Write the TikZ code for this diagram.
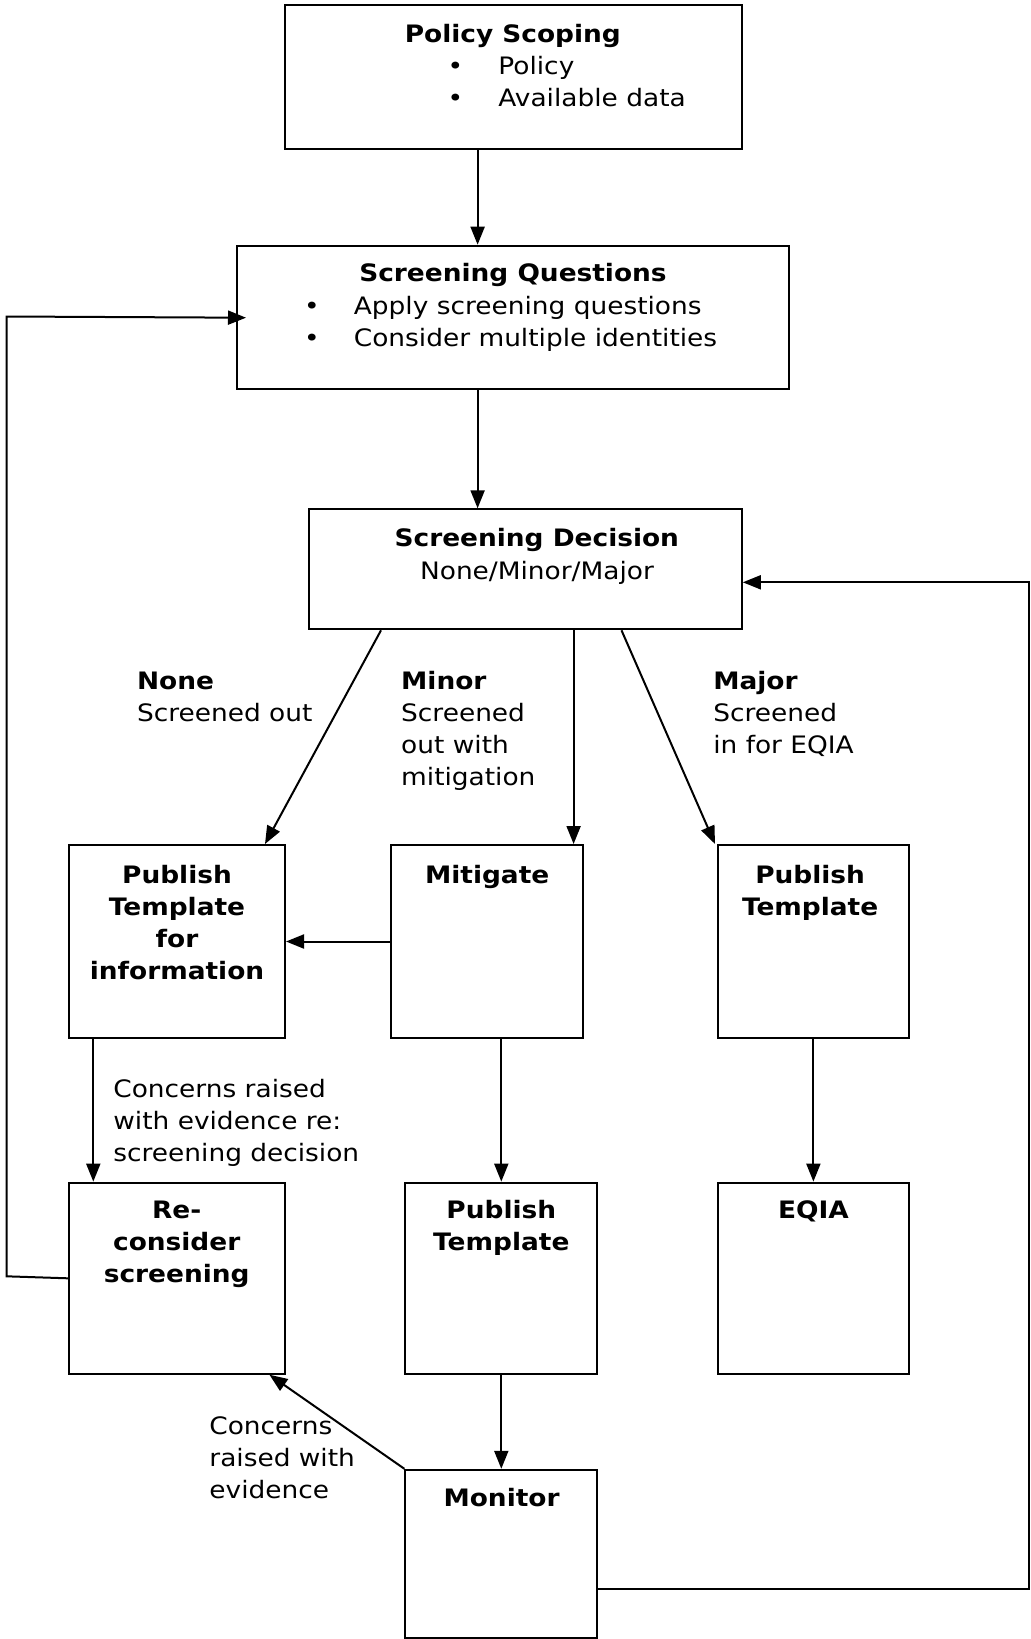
\documentclass[tikz,border=0pt]{standalone}
\usepackage{fontspec}
\setmainfont[FakeStretch=1.1]{DejaVu Sans}
\usetikzlibrary{arrows.meta,calc}
\begin{document}
\begin{tikzpicture}[x=0.5pt,y=-0.5pt,
  box/.style={draw,line width=1pt,inner sep=0pt},
  conn/.style={line width=1pt,-{Triangle[length=9pt,width=7pt]}},
  ttl/.style={font=\fontsize{12pt}{16pt}\selectfont\bfseries,anchor=base,inner sep=0pt},
  btl/.style={font=\fontsize{12pt}{16pt}\selectfont\bfseries,anchor=base west,inner sep=0pt},
  txt/.style={font=\fontsize{12pt}{16pt}\selectfont,anchor=base west,inner sep=0pt},
  ctr/.style={font=\fontsize{12pt}{16pt}\selectfont,anchor=base,inner sep=0pt}]
\useasboundingbox (0,0) rectangle (1030,1639);

% boxes
\node[box,minimum width=228.25pt,minimum height=71.75pt] (ps) at (513.25,76.75) {};
\node[box,minimum width=276.25pt,minimum height=71.65pt] (sq) at (512.75,317.35) {};
\node[box,minimum width=216.5pt,minimum height=60pt] (sd) at (525.3,569.3) {};
\node[box,minimum width=108pt,minimum height=96.5pt] (pti) at (177,941.5) {};
\node[box,minimum width=95.9pt,minimum height=96.5pt] (mit) at (486.9,941.5) {};
\node[box,minimum width=95.9pt,minimum height=96.5pt] (ptm) at (813.4,941.5) {};
\node[box,minimum width=108pt,minimum height=95.55pt] (rec) at (177,1278.15) {};
\node[box,minimum width=95.9pt,minimum height=95.55pt] (ptb) at (501.3,1278.15) {};
\node[box,minimum width=95.9pt,minimum height=95.55pt] (eqia) at (813.4,1278.15) {};
\node[box,minimum width=95.9pt,minimum height=83.95pt] (mon) at (501.3,1553.75) {};

% box texts
\node[ttl] (psT) at (512.8,42.6) {Policy Scoping};
\node[ctr] (psB1) at (455.3,74) {•};
\node[txt] (psL1) at (498,74) {Policy};
\node[ctr] (psB2) at (455.3,106) {•};
\node[txt] (psL2) at (498,106) {Available data};

\node[ttl] (sqT) at (513,281.7) {Screening Questions};
\node[ctr] (sqB1) at (312,314) {•};
\node[txt] (sqL1) at (353.5,314) {Apply screening questions};
\node[ctr] (sqB2) at (312,346.5) {•};
\node[txt] (sqL2) at (353.5,346.5) {Consider multiple identities};

\node[ttl] (sdT) at (536.8,546) {Screening Decision};
\node[ctr] (sdL) at (537,579.3) {None/Minor/Major};

\node[ttl] (ptiA) at (177,883) {Publish};
\node[ttl] (ptiB) at (177,915) {Template};
\node[ttl] (ptiC) at (177,947) {for};
\node[ttl] (ptiD) at (177,979) {information};

\node[ttl] (mitT) at (487.2,883) {Mitigate};

\node[ttl] (ptmA) at (810.1,883) {Publish};
\node[ttl] (ptmB) at (810.1,915) {Template};

\node[ttl] (recA) at (176.7,1218.8) {Re-};
\node[ttl] (recB) at (176.7,1250.8) {consider};
\node[ttl] (recC) at (176.7,1282.8) {screening};

\node[ttl] (ptbA) at (501.3,1218.8) {Publish};
\node[ttl] (ptbB) at (501.3,1250.8) {Template};

\node[ttl] (eqT) at (813.4,1218.8) {EQIA};

\node[ttl] (monT) at (501.6,1506.5) {Monitor};

% branch labels
\node[btl] (noneA) at (136.7,689.3) {None};
\node[txt] (noneB) at (136.7,721) {Screened out};

\node[btl] (minA) at (400.8,689.3) {Minor};
\node[txt] (minB) at (400.8,721) {Screened};
\node[txt] (minC) at (400.8,753) {out with};
\node[txt] (minD) at (400.8,785) {mitigation};

\node[btl] (majA) at (712.9,689.3) {Major};
\node[txt] (majB) at (712.9,721) {Screened};
\node[txt] (majC) at (712.9,753) {in for EQIA};

\node[txt] (c1A) at (113,1097.8) {Concerns raised};
\node[txt] (c1B) at (113,1129.8) {with evidence re:};
\node[txt] (c1C) at (113,1161.8) {screening decision};

\node[txt] (c2A) at (209,1434) {Concerns};
\node[txt] (c2B) at (209,1466) {raised with};
\node[txt] (c2C) at (209,1498) {evidence};

% guide coordinates
\coordinate (xa) at (477.6,0);
\coordinate (xn1) at (381,0);
\coordinate (xn2) at (265,0);
\coordinate (xmi) at (573.6,0);
\coordinate (xj1) at (621.5,0);
\coordinate (xj2) at (715,0);
\coordinate (xr) at (93.3,0);
\coordinate (xm) at (269.4,0);
\coordinate (r1) at (1028.5,1588.8);
\coordinate (r2) at (1028.5,582.3);
\coordinate (l0) at (0,1278.3);
\coordinate (l1) at (6.6,1276.3);
\coordinate (l2) at (6.6,316.5);
\coordinate (l3) at (246,317.7);

% connectors
\draw[conn] (ps.south -| xa) -- (sq.north -| xa);
\draw[conn] (sq.south -| xa) -- (sd.north -| xa);
\draw[conn] (sd.south -| xn1) -- (pti.north -| xn2);
\draw[conn] (sd.south -| xmi) -- (mit.north -| xmi);
\draw[conn] (sd.south -| xj1) -- (ptm.north -| xj2);
\draw[conn] (mit.west) -- (pti.east);
\draw[conn] (pti.south -| xr) -- (rec.north -| xr);
\draw[conn] (mit.south -| ptb.north) -- (ptb.north);
\draw[conn] (ptm.south) -- (eqia.north);
\draw[conn] (ptb.south) -- (mon.north);
\draw[conn] (mon.north west) -- (rec.south -| xm);
\draw[conn] (mon.east |- r1) -- (r1) -- (r2) -- (sd.east |- r2);
\draw[conn] (rec.west |- l0) -- (l1) -- (l2) -- (l3);
\end{tikzpicture}
\end{document}
